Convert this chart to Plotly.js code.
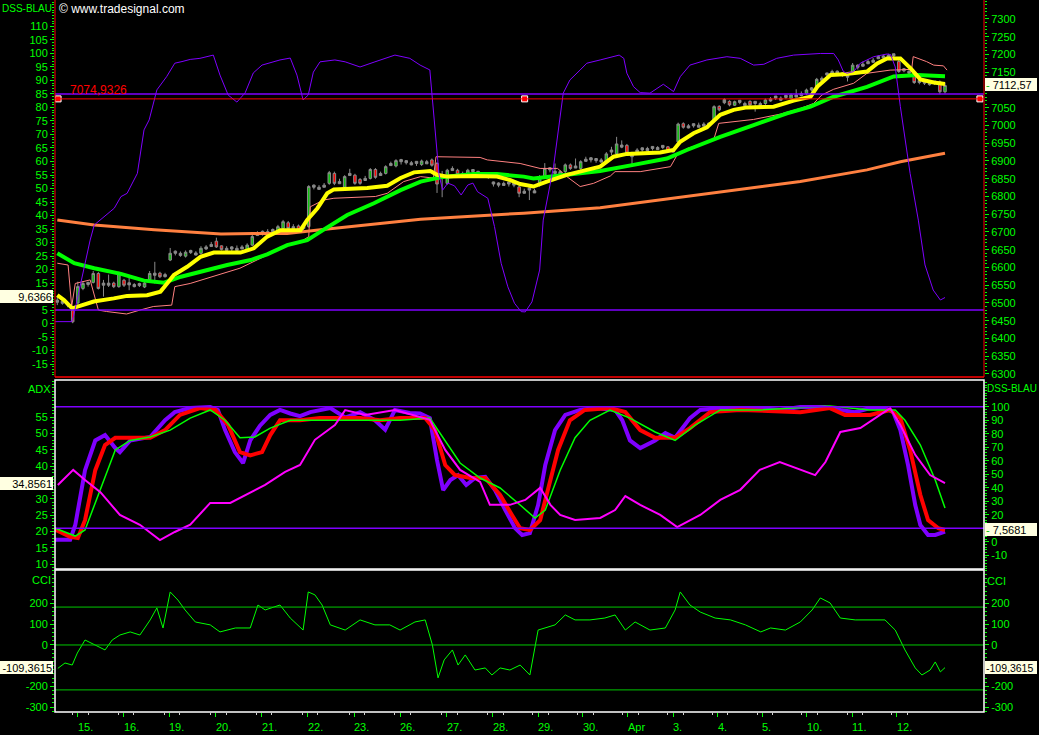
<!DOCTYPE html>
<html>
<head>
<meta charset="utf-8">
<script src="https://cdn.plot.ly/plotly-3.0.1.min.js"></script>
<style>
html,body{margin:0;padding:0;background:#000;overflow:hidden;}
#chart{width:1039px;height:735px;}
</style>
</head>
<body>
<div id="chart"></div>
<script>
// ---------------- DATA ----------------
const dayLabels = ['15.','16.','19.','20.','21.','22.','23.','26.','27.','28.','29.','30.','Apr','3.','4.','5.','10.','11.','12.'];
const dayTicks  = [4.0,12.9,21.8,30.9,39.8,48.8,57.9,66.8,75.9,84.9,93.7,102.4,111.2,120.0,128.7,137.4,146.1,154.9,163.6];

const candleOpen = [
6508,6499,6500,6480,6500,6541,6558,6558,6583,6556,
6550,6556,6546,6564,6557,6546,6555,6545,6565,6578,
6584,6574,6621,6646,6634,6632,6648,6635,6640,6652,
6659,6674,6661,6648,6658,6648,6652,6649,6663,6690,
6702,6695,6707,6701,6710,6726,6709,6717,6716,6715,
6832,6820,6826,6837,6865,6836,6826,6859,6860,6848,
6845,6851,6876,6859,6865,6887,6886,6904,6901,6889,
6899,6890,6892,6903,6893,6852,6837,6873,6874,6859,
6864,6876,6871,6866,6862,6841,6838,6831,6841,6838,
6827,6809,6824,6810,6832,6856,6881,6871,6860,6870,
6889,6880,6879,6899,6909,6907,6897,6898,6925,6920,
6939,6944,6918,6925,6937,6929,6941,6932,6944,6940,
6925,6954,7005,6993,7005,6995,6998,7007,7015,7054,
7073,7068,7057,7071,7056,7068,7068,7056,7062,7069,
7083,7071,7085,7076,7080,7084,7090,7106,7105,7127,
7148,7142,7153,7148,7142,7152,7170,7167,7174,7178,
7188,7190,7192,7202,7180,7160,7153,7138,7127,7125,
7115,7125,7123,7095];
const candleHigh = [
6518,6512,6503,6485,6560,6562,6560,6590,6587,6565,
6580,6560,6588,6568,6574,6556,6557,6560,6590,6616,
6588,6585,6655,6648,6645,6648,6650,6646,6660,6663,
6672,6684,6662,6660,6660,6662,6663,6668,6692,6702,
6704,6708,6710,6720,6734,6731,6722,6721,6718,6832,
6834,6832,6838,6872,6870,6850,6860,6878,6864,6852,
6858,6880,6880,6870,6888,6898,6905,6906,6902,6900,
6900,6904,6903,6907,6897,6872,6878,6885,6878,6870,
6878,6877,6872,6866,6862,6842,6840,6842,6842,6840,
6832,6822,6826,6822,6860,6894,6882,6893,6874,6893,
6893,6907,6902,6912,6911,6908,6908,6925,6940,6968,
6958,6948,6926,6936,6938,6940,6942,6942,6945,6942,
6936,7008,7009,7004,7006,7008,7009,7008,7057,7057,
7077,7071,7070,7071,7067,7071,7068,7067,7076,7080,
7083,7082,7086,7090,7102,7096,7104,7108,7134,7138,
7148,7157,7155,7150,7142,7176,7172,7180,7186,7190,
7198,7200,7202,7202,7186,7162,7155,7142,7128,7126,
7126,7126,7127,7120];
const candleLow = [
6494,6495,6488,6443,6495,6536,6546,6555,6538,6518,
6545,6542,6543,6545,6536,6544,6545,6542,6562,6555,
6570,6572,6618,6634,6630,6628,6638,6634,6636,6650,
6658,6655,6648,6648,6646,6648,6652,6645,6660,6690,
6690,6695,6696,6698,6706,6706,6708,6703,6705,6712,
6820,6820,6826,6833,6832,6835,6822,6858,6833,6833,
6845,6848,6850,6858,6862,6886,6882,6890,6890,6888,
6886,6886,6892,6884,6810,6798,6833,6872,6858,6858,
6862,6865,6860,6855,6850,6828,6826,6830,6828,6826,
6798,6808,6790,6810,6828,6852,6868,6860,6856,6866,
6875,6880,6875,6898,6896,6895,6896,6894,6916,6916,
6936,6918,6889,6925,6926,6928,6930,6932,6933,6925,
6924,6950,6991,6992,6994,6995,6998,6996,7011,7040,
7060,7054,7055,7060,7056,7054,7039,7056,7058,7067,
7072,7069,7074,7074,7080,7082,7086,7096,7101,7124,
7136,7138,7143,7137,7124,7148,7158,7166,7173,7178,
7188,7190,7192,7190,7148,7150,7142,7117,7116,7114,
7112,7114,7088,7090];
const candleClose = [
6502,6505,6494,6447,6546,6555,6552,6583,6541,6550,
6556,6546,6583,6550,6551,6552,6549,6556,6583,6584,
6574,6580,6640,6640,6640,6643,6642,6641,6654,6658,
6665,6658,6651,6654,6652,6654,6658,6663,6687,6696,
6696,6701,6701,6715,6729,6710,6715,6707,6710,6828,
6826,6826,6832,6867,6837,6842,6856,6865,6837,6837,
6851,6876,6854,6865,6884,6893,6901,6898,6895,6895,
6893,6900,6898,6888,6835,6858,6874,6879,6862,6865,
6874,6870,6865,6860,6856,6835,6832,6837,6835,6832,
6809,6815,6818,6816,6856,6879,6875,6865,6870,6889,
6879,6886,6898,6905,6903,6901,6903,6920,6931,6948,
6945,6922,6912,6931,6931,6935,6935,6938,6938,6929,
6931,7004,6995,6999,6999,7001,7004,7001,7053,7044,
7064,7058,7067,7065,7062,7058,7062,7062,7072,7075,
7077,7077,7079,7086,7086,7090,7100,7100,7130,7133,
7142,7152,7147,7142,7136,7170,7164,7173,7180,7184,
7194,7196,7198,7196,7152,7154,7147,7121,7121,7119,
7121,7119,7095,7112.57];

// moving averages / bands on the price scale (bar index, price)
const yellowX = [0,1.3,2.9,4.2,7.1,11,13.6,17.5,20.1,21.4,22.7,25.3,27.9,30.5,35.7,38.3,40.9,43.5,47.4,48.7,50.7,52.6,53.9,60.4,64.3,66.9,69.5,72.7,74,76,81.2,85.7,88.3,90.2,92.8,95.4,99.3,103.2,105.8,108.4,111,117.5,120.1,121.4,124,126.6,129.2,131.8,134.4,139.6,143.5,146.8,148.1,150.7,153.3,157.8,159.8,161.7,164.3,166.3,168.2,170.8,173];
const yellowY = [6522,6508,6485,6490,6504,6513,6520,6522,6532,6555,6579,6602,6630,6642,6642,6654,6687,6705,6705,6734,6767,6809,6820,6824,6830,6852,6868,6872,6861,6856,6858,6856,6846,6835,6828,6842,6861,6875,6884,6912,6920,6924,6931,6954,6978,6995,7030,7044,7051,7053,7070,7081,7109,7142,7144,7152,7175,7189,7189,7161,7130,7121,7117];
const greenMaX = [0,3.3,7.2,12.4,16.9,20.8,24.1,27.9,33.1,37.7,40.9,44.8,48.7,51.3,56.5,61.7,66.9,70.8,74.7,81.2,85.7,90.9,92.8,99.3,105.8,112.3,118.8,122.7,129.2,135.7,142.2,146.8,151.3,157.8,163,167.6,173];
const greenMaY = [6640,6612,6598,6582,6563,6557,6574,6588,6607,6621,6637,6663,6677,6701,6748,6781,6818,6842,6854,6863,6863,6856,6851,6861,6872,6889,6907,6931,6968,7001,7034,7053,7081,7109,7138,7142,7139];
const orangeX = [0,7.2,18.9,31.9,38.3,44.8,51.3,57.8,64.3,70.8,77.2,83.7,90.9,105.8,125.3,144.8,157.8,164.3,173];
const orangeY = [6734,6720,6706,6694,6696,6696,6706,6715,6726,6736,6741,6748,6753,6768,6804,6842,6875,6898,6922];
const pinkX = [0,2.1,2.8,3.5,6.4,8,9.6,13.5,16.1,18.7,22.3,22.9,25.9,30.4,35.6,40.9,44.8,47.4,49,49.3,51.9,53.9,62,64.3,67.5,70.8,73.3,73.8,82.4,83.8,90.2,94.1,97.5,99.3,101.9,104.5,107.8,108.7,113.6,119.5,120.8,122.7,127.9,128.9,131.8,135.7,140.9,144.8,147.4,149,151.3,155.2,157.8,162.3,166.5,166.8,169.4,170.8,172.7,173.4];
const pinkY = [6612,6607,6490,6555,6565,6480,6476,6469,6480,6490,6494,6546,6555,6574,6598,6635,6663,6672,6687,6771,6790,6795,6800,6809,6842,6856,6852,6912,6910,6903,6893,6879,6879,6856,6828,6837,6858,6870,6870,6884,6917,6935,6959,7006,7011,7017,7032,7048,7062,7086,7102,7119,7147,7156,7158,7194,7180,7170,7168,7156];
const priceLevel = 7074.9326;

// DSS in the top panel (left scale)
const dssTopX = [-0.4,2.8,3.2,5.1,6.4,7.2,11.1,12.4,13.6,15.6,16.9,17.9,19.4,21.3,22.9,24.3,25.9,27.8,30.4,31.7,33.3,35,36.6,38.2,39.9,43.4,45.4,46.7,47.9,48.9,49.9,51.2,54.1,56.1,59,61.9,65.8,68.7,70.7,72.6,73.5,74.4,75.1,76.1,77.4,78.7,80,81,81.9,83.9,85.2,86.5,87.8,89.1,90.4,91.2,92.5,94,94.7,96.7,98.6,99.9,101.9,103.2,105.8,108.4,109.5,110.4,111,112.3,113.6,115.5,116.5,118.1,120.1,121.4,123.3,126.6,130.5,133.1,135.7,137.7,140.2,143.5,148.7,151.3,152.2,153.2,153.9,155.2,156.5,159.1,161.7,162.4,163.3,164.3,166.2,167.8,169.1,170.7,172.1,173];
const dssTopY = [0.7,0.7,3,19.8,30.9,36.5,42.7,47,48.2,55.6,71.7,75.4,86.5,91.4,96.4,97,97.8,98.2,99.4,92,84.6,82,85.4,92.8,95.7,97.6,98.3,92,82.8,84.6,93.1,96.9,97.6,96.9,95,96.9,99.4,98.2,95.7,93.9,75,55,49.4,52,51,47.6,51.3,52,48.8,46.4,35.9,22.3,13.6,7.5,4.4,4.3,8,19.8,38.3,58,85.3,90.2,93.9,96.4,97.6,99,99.4,98.2,92.7,87.7,85.5,85.3,86.5,88.6,85.9,91.4,95.7,97.6,98.8,98.2,95.7,96,98.2,99.4,100,100,97.6,93.3,92.7,93.3,96.4,98.8,99.8,99.6,95,80.3,55.6,38.3,21.7,12.4,8.7,9.6366];
const dssTopLevels = [85, 5];

// middle panel: DSS lines (right scale) and ADX (left scale)
const dssFastX = [-0.4,2.5,3.5,5.4,7.4,9.3,11.3,12.2,14.2,18.1,21,22.9,25.9,29.8,31.3,32.7,34.6,36.2,37.6,39.5,41.5,43.4,45.4,47.3,49.3,51.2,53.2,56.1,59,61.9,63.9,65.8,68.7,70.7,72.6,74,75.2,76.6,78.1,79.7,81.4,83.4,85.3,87.3,89.2,90.6,92.1,93.7,95.1,97,99,101.9,104.8,108.7,110.1,111.6,113.6,116.5,118.5,120.4,123.3,125.3,129.2,136.9,140.8,144.8,149.6,152.6,155.5,158.4,161.3,162.9,164.3,165.8,167.2,168.2,169.7,171.1,173];
const dssFastY = [1.5,1.5,12.4,53,75,79,69.4,66.4,75,77.6,90,96,99,99.8,97.6,82.7,66.4,58.3,75,86,93.9,97.6,95,93,96,97.6,99,92,96,90,83,97.6,95.3,95,91.6,60.5,38.3,45.7,49.4,42,47.2,48,38.3,23.5,10.1,5,6.4,27.2,56.8,82.7,93.9,97.6,99,97.6,90,75,69.4,75,80.5,77,91.6,97.6,99,99,97.6,99.8,99.8,97.6,96,99,99,96,82.7,56.8,27.2,12.4,5,5,7.5681];
const dssSlowX = [-0.4,2.5,4,5.4,7.4,9.3,11.3,14.2,18.1,21,23.9,27.8,30.8,33.3,35.6,37.6,39.9,41.5,43.4,47.3,51.2,59,62.9,66.8,71.7,73.6,75.6,77.5,80.5,83.4,86.3,88.6,90.2,92.1,94.1,95.6,97.6,99.9,102.8,107.7,110.7,113.6,116.5,120.4,123.3,127.2,133.1,144.8,150.6,153.5,158.4,162.3,164.3,166.2,168.2,169.7,171.7,173];
const dssSlowY = [9,3.7,2.7,16,53,71.6,77,77,77,82.7,93.9,99,97.6,86.4,66.4,64,66.4,79,90,90,91.6,91.6,90,91.6,91.6,82.7,56.8,49.4,47.2,47.2,34.6,19.8,10,8.7,16,38.3,68,90,97.6,99,96,82.7,77,77,84.2,96,97.6,96,99,93.9,93.9,97.6,91.6,68,34.6,16,10,8.7];
const dssSignalX = [-0.4,3.5,5.4,8.4,11.3,14.2,18.1,22,25.9,29.8,32.7,35.6,38.5,41.5,45.4,51.2,59,66.8,72.6,75.6,78.5,82.4,86.3,90.2,93.1,95.1,98,100.9,103.8,107.7,111.6,116.5,120.4,124.3,129.2,136.9,150.6,158.4,163.3,165.2,168.2,171.1,173];
const dssSignalY = [10,4.2,8.7,38.3,68,75,77.6,82.7,91.6,97.6,90,77,77.6,84.2,90,90,90,90,91.6,75,58.3,47.2,39.8,27.2,17.5,23.5,53,77,90,97.6,91.6,81.3,75,86.4,97.6,97.6,100.5,97.6,97.6,90,71.6,45.7,25];
const adxX = [0.1,3.1,5.4,8.4,12.2,16.1,20,22.9,25.9,29.8,33.7,36.6,40.5,44.4,47.3,50.2,54.1,56.1,60,65.8,72.6,75.6,78.5,82.4,84.3,88.2,91.2,94.1,96.1,98,100.9,105.8,108.7,110.7,113.6,117.5,120.8,125.3,129.2,133.1,136.9,140.8,144.8,147.7,149.7,152.6,156.5,159.4,162.3,164.3,167.2,170.1,173];
const adxY = [34.3,38.9,35.8,32.1,25.1,22.1,17.4,19.9,22.1,28.8,28.8,31.2,34.3,38.3,40.4,48.1,52.6,57.2,55.7,57.2,54.2,45,38.9,35.2,28.2,28.2,29.7,33.4,28.2,25.1,23.6,24.2,26.6,30.9,28.2,25.1,21.4,25.1,29.7,32.8,38.9,41.3,38.9,37.3,41.3,50.5,51.7,54.8,57.8,52.6,43.5,37.3,34.8561];
const dssMidLevels = [100, 10];

// bottom panel: CCI
const cciX = [0.1,1.5,2.9,3.9,5.4,7.4,9.3,10.7,12.2,14.2,16.1,18.1,19.4,20.6,22,23.5,24.9,26.9,29.8,31.7,34.7,37.6,39.1,40.5,43.4,45.4,46.9,47.9,48.9,50.2,51.6,53.2,56.1,59,61.9,64.8,66.8,69.7,71.7,73.1,74.2,75.4,77,78.1,79.5,81.4,83.4,84.7,86.3,88.2,90.2,92.1,93.7,95.1,97,99,100.9,103.8,106.7,108.7,110.7,112.6,115.5,118.5,120.4,121.4,123.3,125.3,128.2,131.2,134.1,137.1,139,141.9,144.8,147.1,148.7,150.6,152.6,155.5,158.4,161.3,163.3,165.2,167.2,168.5,170.1,171.1,172.1,173];
const cciY = [-113,-87,-97,-39,24,0,-24,24,48,63,48,121,179,82,256,217,169,111,97,63,82,82,193,169,193,130,97,72,256,242,193,97,72,121,97,97,72,111,121,0,-159,-72,-24,-97,-48,-121,-111,-145,-111,-121,-97,-145,72,82,97,145,121,121,130,145,72,111,72,82,169,256,193,159,130,121,97,63,82,72,111,169,227,203,130,121,121,121,72,-24,-111,-145,-121,-82,-130,-109.3615];
const cciLevels = [183, 0, -217];

// ---------------- CHART ----------------
const GREEN = '#00ff00';
const FONT = 'Liberation Sans, Arial, sans-serif';
const W = 1039, H = 735, ML = 55, MR = 55, MT = 0, MB = 23;
const PW = W - ML - MR, PH = H - MT - MB;
const px = X => (X - ML) / PW;          // pixel -> paper x
const py = Y => (PH + MT - Y) / PH;     // pixel -> paper y
const domTop = [py(377), 1], domMid = [py(569), py(380)], domBot = [0, py(570)];
const xr = [-0.45, 180.6];

const last = a => a[a.length - 1];
const fmt = (v, d) => v.toFixed(d).replace('.', ',');
const range = (a, b, s) => { const r = []; for (let v = a; v <= b + 1e-9; v += s) r.push(v); return r; };

const barIdx = candleClose.map((_, i) => i);
const isGray = i => Math.abs(candleClose[i] - candleOpen[i]) < 10;
function candleTrace(ids, fill, line) {
  return {
    type: 'candlestick', xaxis: 'x', yaxis: 'y', x: ids,
    open: ids.map(i => candleOpen[i]), high: ids.map(i => candleHigh[i]),
    low: ids.map(i => candleLow[i]), close: ids.map(i => candleClose[i]),
    increasing: {line: {color: line, width: 1}, fillcolor: fill},
    decreasing: {line: {color: line, width: 1}, fillcolor: fill},
    whiskerwidth: 0, hoverinfo: 'skip', showlegend: false
  };
}
function line(x, y, yaxis, color, width) {
  return {type: 'scatter', mode: 'lines', x: x, y: y, xaxis: 'x', yaxis: yaxis,
          line: {color: color, width: width}, hoverinfo: 'skip', showlegend: false};
}

const upIds = barIdx.filter(i => !isGray(i) && candleClose[i] > candleOpen[i]);
const downIds = barIdx.filter(i => !isGray(i) && candleClose[i] < candleOpen[i]);
const grayIds = barIdx.filter(isGray);

const traces = [
  line(pinkX, pinkY, 'y', '#ff8080', 1),
  line(orangeX, orangeY, 'y', '#ff8040', 3),
  line(greenMaX, greenMaY, 'y', '#00ff00', 4),
  line(yellowX, yellowY, 'y', '#ffff00', 4),
  candleTrace(grayIds, '#8a8a8a', '#8a8a8a'),
  candleTrace(upIds, '#10c010', '#8a8a8a'),
  candleTrace(downIds, '#ff0000', '#8a8a8a'),
  {type: 'scatter', mode: 'markers', xaxis: 'x', yaxis: 'y',
   x: [xr[0] + 0.6, (xr[0] + xr[1]) / 2 + 1, xr[1] - 0.8], y: [priceLevel, priceLevel, priceLevel],
   marker: {symbol: 'square', size: 6, color: '#ff0000', line: {color: '#ffffff', width: 1}},
   hoverinfo: 'skip', showlegend: false},
  line(dssTopX, dssTopY, 'y2', '#7f00ff', 1),
  line(dssFastX, dssFastY, 'y3', '#7f00ff', 4),
  line(dssSlowX, dssSlowY, 'y3', '#ff0000', 4),
  line(dssSignalX, dssSignalY, 'y3', '#00ff00', 1.5),
  line(adxX, adxY, 'y4', '#ff00ff', 2),
  line(cciX, cciY, 'y5', '#00ff00', 1),
  {type: 'scatter', mode: 'markers', xaxis: 'x', yaxis: 'y6', x: [xr[0]], y: [0],
   marker: {opacity: 0}, hoverinfo: 'skip', showlegend: false}
];

const tickFont = {family: FONT, size: 11, color: GREEN};
// tick labels hidden where a value box sits on top of them (as in the reference)
function yax(extra, vals, hidden, minorStep) {
  return Object.assign({
    showgrid: false, zeroline: false, showline: false, fixedrange: true, anchor: 'x',
    ticks: 'outside', ticklen: 4, tickwidth: 1, tickcolor: GREEN, tickfont: tickFont,
    tickmode: 'array', tickvals: vals,
    ticktext: vals.map(v => hidden.includes(v) ? '' : String(v)),
    minor: {ticks: 'outside', tickmode: 'linear', tick0: 0, dtick: minorStep, ticklen: 2, tickwidth: 1, tickcolor: GREEN, showgrid: false}
  }, extra);
}

const shapes = [];
const hline = (yref, y, color, width) => shapes.push({type: 'line', xref: 'paper', x0: 0, x1: 1, yref: yref, y0: y, y1: y, line: {color: color, width: width}});
dssTopLevels.forEach(v => hline('y2', v, '#7f00ff', 1.5));
hline('y', priceLevel, '#ff0000', 1);
dssMidLevels.forEach(v => hline('y3', v, '#7f00ff', 1.5));
cciLevels.forEach(v => hline('y5', v, '#00c800', 1));
// panel frames
shapes.push({type: 'line', xref: 'paper', yref: 'paper', x0: 0, x1: 0, y0: domTop[0], y1: 1, line: {color: '#ff0000', width: 1}});
shapes.push({type: 'line', xref: 'paper', yref: 'paper', x0: 1, x1: 1, y0: domTop[0], y1: 1, line: {color: '#ff0000', width: 1}});
shapes.push({type: 'line', xref: 'paper', yref: 'paper', x0: 0, x1: 1, y0: domTop[0], y1: domTop[0], line: {color: '#ff0000', width: 1.5}});
shapes.push({type: 'rect', xref: 'paper', yref: 'paper', x0: 0, x1: 1, y0: domMid[0], y1: domMid[1], line: {color: '#ffffff', width: 1.5}});
shapes.push({type: 'rect', xref: 'paper', yref: 'paper', x0: 0, x1: 1, y0: domBot[0], y1: domBot[1], line: {color: '#ffffff', width: 1.5}});

const annFont = (c, s) => ({family: FONT, size: s || 12, color: c});
const annotations = [];
const txt = (text, x, y, xanchor, color, size) => annotations.push({text: text, xref: 'paper', yref: 'paper', x: x, y: y, xanchor: xanchor, yanchor: 'middle', showarrow: false, font: annFont(color, size)});
txt('DSS-BLAU', px(54), py(8), 'right', GREEN, 10);
txt('\u00a9 www.tradesignal.com', px(57), py(9), 'left', '#ffffff', 12);
txt('ADX', px(53), py(389), 'right', GREEN, 11);
txt('CCI', px(53), py(580), 'right', GREEN, 11);
txt('DSS-BLAU', px(985), py(388), 'left', GREEN, 10);
txt('CCI', px(985), py(581), 'left', GREEN, 11);
annotations.push({text: fmt(priceLevel, 4), xref: 'paper', x: px(68), yref: 'y', y: priceLevel, xanchor: 'left', yanchor: 'bottom', showarrow: false, font: annFont('#ff0000', 12)});

const box = (text, yref, y, side, shift, dash, size) => annotations.push({
  text: (side === 'right' && dash) ? '<span style="color:#00c000">-</span> ' + text : text,
  xref: 'paper', x: side === 'left' ? px(53) : px(985), yref: yref, y: y, yshift: shift || 0,
  xanchor: side === 'left' ? 'right' : 'left', yanchor: 'middle', align: side === 'left' ? 'right' : 'left',
  width: side === 'left' ? 51 : 50, height: 11, borderpad: 1, borderwidth: 0,
  bgcolor: '#ffffe1', showarrow: false, font: annFont('#000000', size || 11)
});
box(fmt(last(dssTopY), 4), 'y2', last(dssTopY), 'left', 1);
box(fmt(last(candleClose), 2), 'y', last(candleClose), 'right', 1, true);
box(fmt(last(adxY), 4), 'y4', last(adxY), 'left', 0);
box(fmt(last(dssFastY), 4), 'y3', last(dssFastY), 'right', 2, true);
box(fmt(last(cciY), 4), 'y5', last(cciY), 'left', 0);
box(fmt(last(cciY), 4), 'y6', last(cciY), 'right', 0, false, 10.5);

dayLabels.forEach((lab, k) => annotations.push({text: lab, xref: 'x', x: dayTicks[k], yref: 'paper', y: py(727), xanchor: 'left', yanchor: 'middle', xshift: -2, showarrow: false, font: annFont(GREEN, 11)}));

const minorDay = [];
dayTicks.forEach(t => { minorDay.push(t - 1); minorDay.push(t + 2); });

const layout = {
  width: W, height: H, margin: {l: ML, r: MR, t: MT, b: MB, pad: 0},
  paper_bgcolor: '#000000', plot_bgcolor: '#000000', showlegend: false,
  font: {family: FONT, size: 11, color: GREEN},
  xaxis: {domain: [0, 1], range: xr, anchor: 'y5', showgrid: false, zeroline: false, showline: false,
          showticklabels: false, fixedrange: true, rangeslider: {visible: false},
          ticks: 'outside', tickmode: 'array', tickvals: dayTicks, ticklen: 4, tickwidth: 1, tickcolor: GREEN,
          minor: {ticks: 'outside', tickmode: 'array', tickvals: minorDay, ticklen: 2, tickwidth: 1, tickcolor: '#d0d0d0', showgrid: false}},
  yaxis:  yax({domain: domTop, side: 'right', range: [6291.5, 7353.5]}, range(6300, 7300, 50), [7100], 10),
  yaxis2: yax({overlaying: 'y', side: 'left', range: [-19.8, 119.8]}, range(-15, 110, 5), [10], 1),
  yaxis3: yax({domain: domMid, side: 'right', range: [-20.2, 119.8]}, range(-10, 100, 10), [10], 2),
  yaxis4: yax({overlaying: 'y3', side: 'left', range: [8.57, 66.4]}, range(10, 55, 5), [35], 1),
  yaxis5: yax({domain: domBot, side: 'left', range: [-323.7, 362]}, range(-300, 200, 100), [-100], 20),
  yaxis6: yax({overlaying: 'y5', side: 'right', range: [-323.7, 362]}, range(-300, 200, 100), [-100], 20),
  shapes: shapes,
  annotations: annotations
};

Plotly.newPlot('chart', traces, layout, {staticPlot: true, displayModeBar: false});
</script>
</body>
</html>
